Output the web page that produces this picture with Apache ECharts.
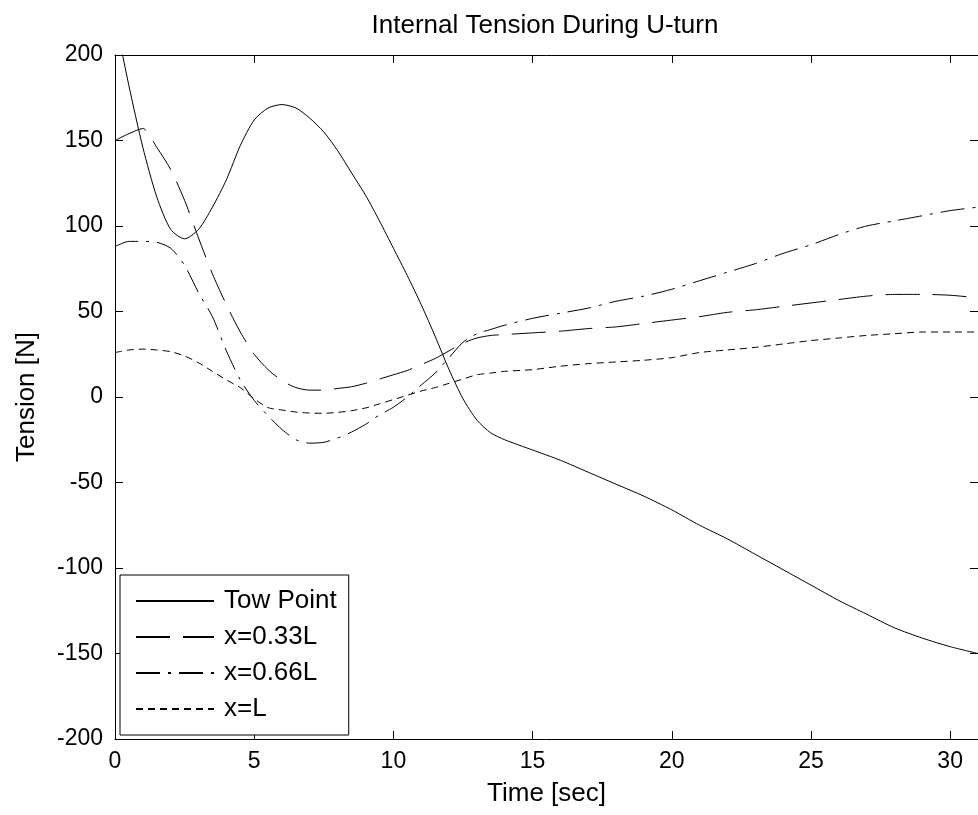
<!DOCTYPE html>
<html>
<head>
<meta charset="utf-8">
<script src="https://cdn.jsdelivr.net/npm/echarts@6/dist/echarts.min.js"></script>
<style>html,body{margin:0;padding:0;background:#fff}#c{width:978px;height:815px}</style>
</head>
<body>
<div id="c"></div>
<script>
const time = [0,0.5,1,1.5,2,2.5,3,3.5,4,4.5,5,5.5,6,6.5,7,7.5,8,8.5,9,9.5,10,10.5,11,11.5,12,12.5,13,13.5,14,15,16,17,18,19,20,21,22,23,24,25,26,27,28,29,30,31];
const towPoint = [222,182,146,117,98,92.5,98,111,127,147,162,169,171,169,163,155,144,131,118,103,87,71,54,35.5,16,-1,-13.5,-21,-25,-31,-37,-44,-51,-58,-66,-75,-83,-92,-101,-110,-119,-127,-135,-141,-146,-150];
const x033L = [150,154,157,146,133,115,93,72,54,38,25,16,9.5,5.5,4,4,5,6,8,10.5,13,15.5,19,22.5,27,31.5,34.5,36,36.5,37.5,38.5,40,41,43,45,47,49.5,51,53,55,57,59,60,60,59.5,58];
const x066L = [88,91,91,90.5,87,77,61,47,27,10,-2,-11,-19,-25,-27,-26.5,-24,-20.5,-16,-10.5,-6,0,7,14,23,32,37,39.5,42,46,49,52,56,59,63,68,73,78,84,89,95,100,103,106,109,111];
const xL = [26,27.5,28,27.5,26.5,24,20,15,10,5.5,-1,-6.2,-7.6,-8.8,-9.4,-9.5,-9,-8,-6.4,-4,-1.5,1,3.5,5.5,8,10.5,13,14,15,16,18,19.5,20.5,21.5,23,26,27.5,29,31,33,34.5,36,37,38,38,38];
const seriesNames = ['Tow Point','x=0.33L','x=0.66L','x=L'];
const seriesValues = [towPoint, x033L, x066L, xL];
const dashTypes = ['solid',[34,13],[24,8,3,8],[7,5]];
const xTicks = {min:0, max:31, interval:5};
const yTicks = {min:-200, max:200, interval:50};

const FONT = 'Liberation Sans, Arial, sans-serif';
const chart = echarts.init(document.getElementById('c'), null, {renderer:'canvas'});
function pairs(v){ return time.map((t,i)=>[t,v[i]]); }
function axisLine(){ return {show:true, onZero:false, lineStyle:{color:'#000', width:1}}; }
function tick(){ return {show:true, inside:false, length:-8, lineStyle:{color:'#000', width:1}}; }
chart.setOption({
  animation:false,
  backgroundColor:'#fff',
  title:{text:'Internal Tension During U-turn', left:540, top:8, textAlign:'center',
    textStyle:{fontFamily:FONT, fontSize:26, fontWeight:'normal', color:'#000'}},
  grid:{left:115, top:55, right:-5, bottom:76, containLabel:false},
  xAxis:[
    {type:'value', min:xTicks.min, max:xTicks.max, interval:xTicks.interval, position:'bottom',
     name:'Time [sec]', nameLocation:'middle', nameGap:42, nameMoveOverlap:false,
     nameTextStyle:{fontFamily:FONT, fontSize:26, color:'#000'},
     axisLine:axisLine(), axisTick:tick(), splitLine:{show:false},
     axisLabel:{fontFamily:FONT, fontSize:23, color:'#000', margin:11, showMaxLabel:false}},
    {type:'value', min:xTicks.min, max:xTicks.max, interval:xTicks.interval, position:'top',
     axisLine:axisLine(), axisTick:tick(), splitLine:{show:false}, axisLabel:{show:false}}
  ],
  yAxis:[
    {type:'value', min:yTicks.min, max:yTicks.max, interval:yTicks.interval, position:'left',
     name:'Tension [N]', nameLocation:'middle', nameGap:75, nameMoveOverlap:false,
     nameTextStyle:{fontFamily:FONT, fontSize:26, color:'#000'},
     axisLine:axisLine(), axisTick:tick(), splitLine:{show:false},
     axisLabel:{fontFamily:FONT, fontSize:23, color:'#000', margin:12}},
    {type:'value', min:yTicks.min, max:yTicks.max, interval:yTicks.interval, position:'right',
     axisLine:axisLine(), axisTick:tick(), splitLine:{show:false}, axisLabel:{show:false}}
  ],
  legend:{
    orient:'vertical', left:120, top:575, itemWidth:78, itemHeight:14, itemGap:10,
    padding:[13,12,13,15], borderColor:'#000', borderWidth:1, backgroundColor:'#fff',
    itemStyle:{opacity:0},
    textStyle:{fontFamily:FONT, fontSize:26, color:'#000', lineHeight:26, padding:[0,0,0,5]},
    data: seriesNames
  },
  series: seriesNames.map((n,i)=>({
    name:n, type:'line', data:pairs(seriesValues[i]), symbol:'none', smooth:0.25,
    lineStyle:{color:'#000', width:1, type:dashTypes[i]}, itemStyle:{color:'#000'},
    clip:true, z:2
  }))
});
</script>
</body>
</html>
